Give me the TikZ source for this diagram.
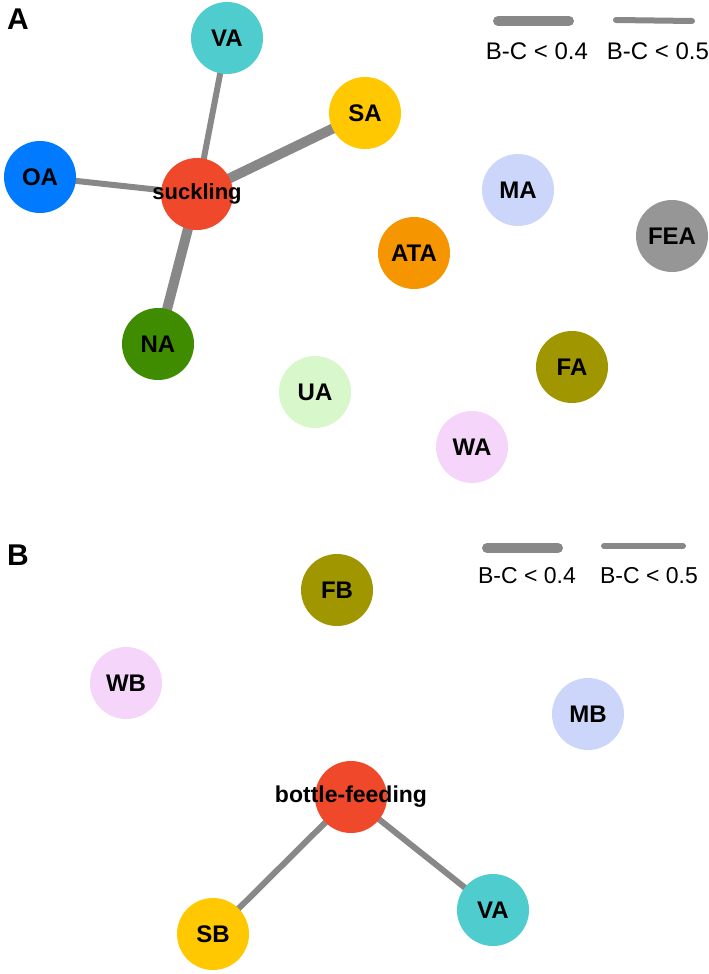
\documentclass[tikz,border=0pt]{standalone}
\usepackage{fontspec}
\setmainfont{Liberation Sans}
\usetikzlibrary{backgrounds}
\definecolor{cVA}{RGB}{78,204,206}
\definecolor{cSA}{RGB}{255,200,0}
\definecolor{cOA}{RGB}{0,122,255}
\definecolor{cSU}{RGB}{240,72,43}
\definecolor{cMA}{RGB}{204,213,250}
\definecolor{cFEA}{RGB}{150,150,150}
\definecolor{cATA}{RGB}{245,150,0}
\definecolor{cNA}{RGB}{63,140,0}
\definecolor{cFA}{RGB}{160,150,0}
\definecolor{cUA}{RGB}{216,248,204}
\definecolor{cWA}{RGB}{245,214,250}
\definecolor{cEdge}{RGB}{136,136,136}
\tikzset{
  nd/.style={circle, minimum size=72pt, inner sep=0pt, text=black,
    font=\bfseries\fontsize{24}{24}\selectfont},
  longlbl/.style={font=\bfseries\fontsize{22}{22}\selectfont},
  thickedge/.style={draw=cEdge, line width=10pt},
  thinedge/.style={draw=cEdge, line width=6pt},
  legthick/.style={draw=cEdge, line width=10pt, line cap=round},
  legthin/.style={draw=cEdge, line width=6pt, line cap=round},
  legtext/.style={font=\fontsize{24}{24}\selectfont, inner sep=0pt},
  legtextB/.style={font=\fontsize{23}{23}\selectfont, inner sep=0pt},
  panel/.style={font=\bfseries\fontsize{30}{30}\selectfont, inner sep=0pt}
}
\begin{document}
\begin{tikzpicture}[x=1pt, y=-1pt]
\useasboundingbox (0,0) rectangle (709,974);
% panel labels
\node[panel] (pA) at (18,19) {A};
\node[panel] (pB) at (18,555) {B};
% Panel A nodes
\node[nd, fill=cVA] (VA) at (227,38) {VA};
\node[nd, fill=cSA] (SA) at (365,113) {SA};
\node[nd, fill=cOA] (OA) at (40,177) {OA};
\node[nd, longlbl, fill=cSU] (SU) at (197,194) {\makebox[0pt]{suckling}};
\node[nd, fill=cMA] (MA) at (518,190) {MA};
\node[nd, fill=cFEA] (FEA) at (672,236) {FEA};
\node[nd, fill=cATA] (ATA) at (414,253) {ATA};
\node[nd, fill=cNA] (NA) at (158,344) {NA};
\node[nd, fill=cFA] (FA) at (572,367) {FA};
\node[nd, fill=cUA] (UA) at (315,392) {UA};
\node[nd, fill=cWA] (WA) at (472,447) {WA};
\begin{scope}[on background layer]
\draw[thinedge] (SU.center) -- (VA.center);
\draw[thinedge] (SU.center) -- (OA.center);
\draw[thickedge] (SU.center) -- (SA.center);
\draw[thickedge] (SU.center) -- (NA.center);
\end{scope}
% Legend A
\coordinate (a1) at (498,21); \coordinate (a2) at (569,21);
\coordinate (a3) at (616,20); \coordinate (a4) at (692,21);
\draw[legthick] (a1) -- (a2);
\draw[legthin] (a3) -- (a4);
\node[legtext] (la1) at (537,51) {B-C < 0.4};
\node[legtext] (la2) at (658,51) {B-C < 0.5};
% Panel B nodes
\node[nd, fill=cFA] (FB) at (337,590) {FB};
\node[nd, fill=cWA] (WB) at (126,683) {WB};
\node[nd, fill=cMA] (MB) at (588,714) {MB};
\node[nd, fill=cSU, font=\bfseries\fontsize{23}{23}\selectfont] (BF) at (351,797) {\makebox[0pt]{bottle-feeding}};
\node[nd, fill=cSA] (SB) at (213,934) {SB};
\node[nd, fill=cVA] (VB) at (493,910) {VA};
\begin{scope}[on background layer]
\draw[thinedge] (BF.center) -- (SB.center);
\draw[thinedge] (BF.center) -- (VB.center);
\end{scope}
% Legend B
\coordinate (b1) at (487,548); \coordinate (b2) at (558,548);
\coordinate (b3) at (604,546); \coordinate (b4) at (683,546);
\draw[legthick] (b1) -- (b2);
\draw[legthin] (b3) -- (b4);
\node[legtextB] (lb1) at (527,576) {B-C < 0.4};
\node[legtextB] (lb2) at (649,576) {B-C < 0.5};
\end{tikzpicture}
\end{document}
